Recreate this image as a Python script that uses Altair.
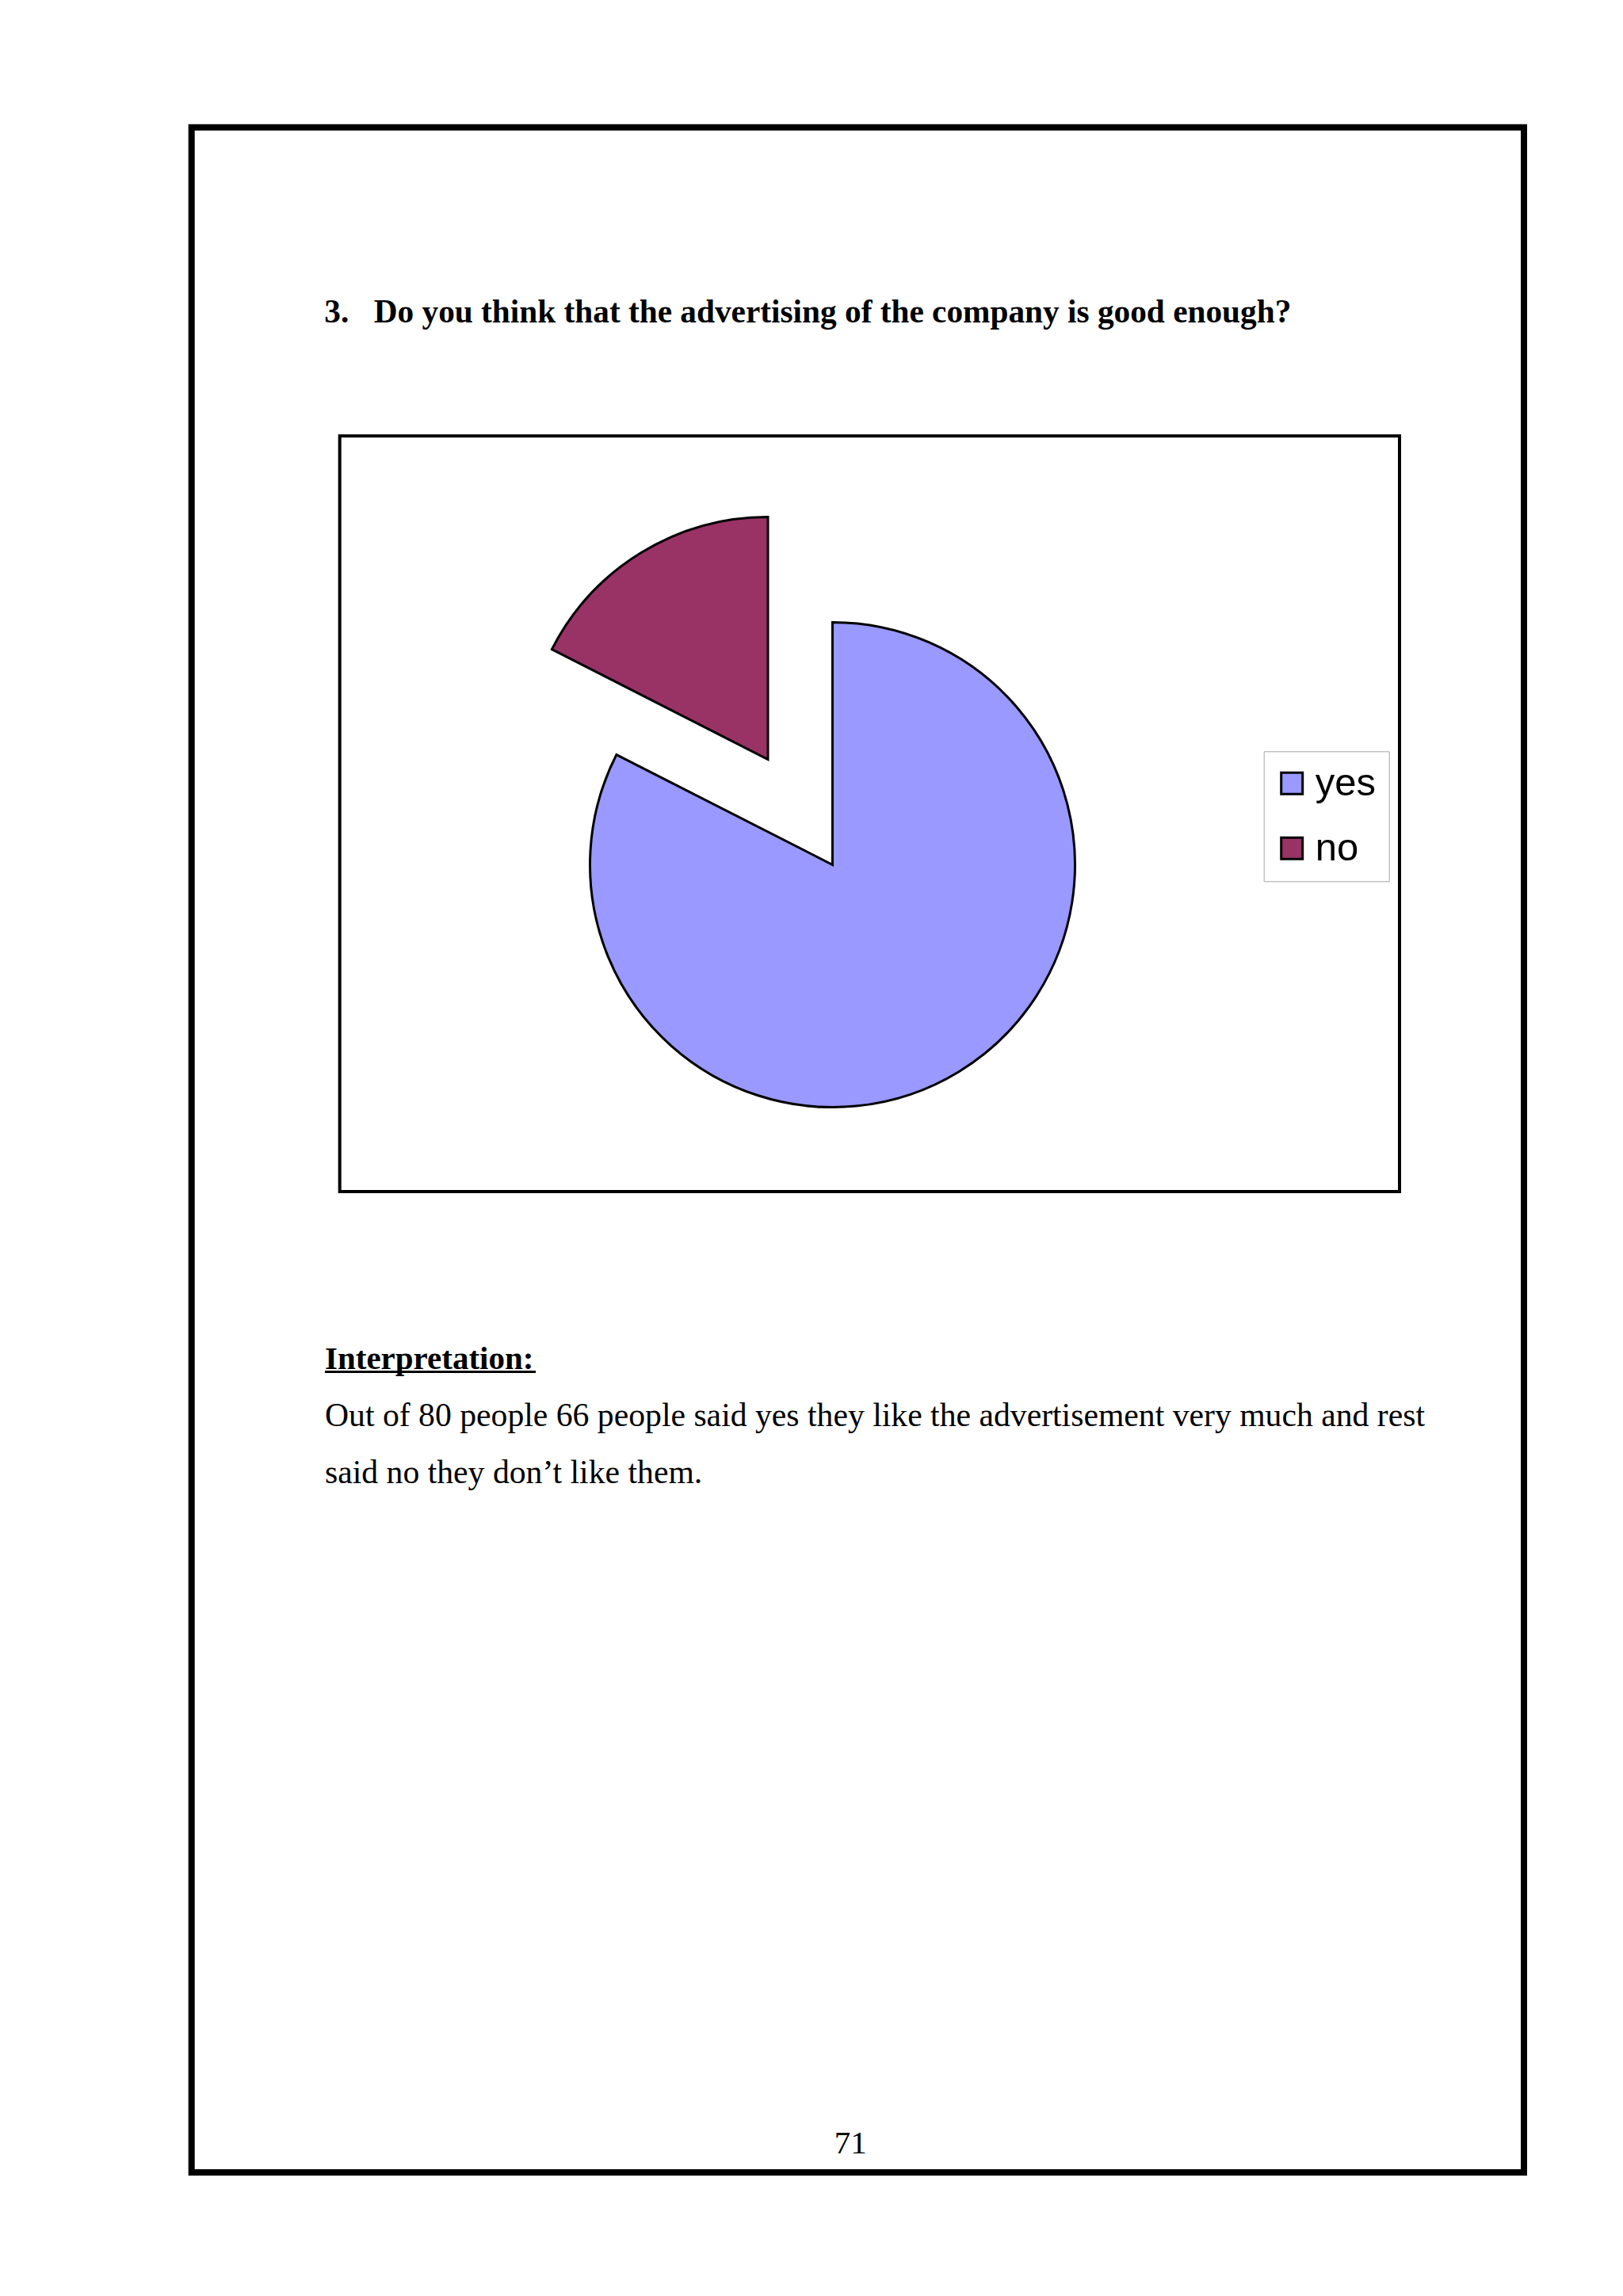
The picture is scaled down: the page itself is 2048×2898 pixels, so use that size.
import math
import altair as alt
import pandas as pd

# ---- data ----
categories = ["yes", "no"]
counts = [66, 14]
slice_colors = ["#9999FF", "#993366"]

question_no = "3."
question = "Do you think that the advertising of the company is good enough?"
interp_head = "Interpretation:"
interp_lines = [
    "Out of 80 people 66 people said yes they like the advertisement very much and rest",
    "said no they don\u2019t like them.",
]
page_number = "71"

# ---- layout (page pixels minus the 8px body margin) ----
OFF = 8
W, H = 2048 - 2 * OFF, 2898 - 2 * OFF
CX, CY = 1050.5 - OFF, 1091.5 - OFF
R = 306
EXPLODE = 156
SERIF = "Liberation Serif"
SANS = "Liberation Sans"

pie_df = pd.DataFrame({"cat": categories, "value": counts, "order": list(range(len(categories)))})

pie = (
    alt.Chart(pie_df)
    .transform_joinaggregate(total="sum(value)")
    .transform_window(cum="sum(value)", sort=[alt.SortField("order")], frame=[None, 0])
    .transform_calculate(t0="datum.cum - datum.value", t1="datum.cum")
    .transform_calculate(mid="(datum.t0 + datum.t1) / 2 / datum.total * 2 * PI")
    .transform_calculate(ex=f"datum.cat == 'no' ? {EXPLODE} : 0")
    .transform_calculate(
        px=f"{CX} + datum.ex * sin(datum.mid)",
        py=f"{CY} - datum.ex * cos(datum.mid)",
    )
    .mark_arc(radius=R, stroke="black", strokeWidth=3)
    .encode(
        theta=alt.Theta("t0:Q", scale=alt.Scale(domain=[0, sum(counts)], range=[0, 2 * math.pi])),
        theta2=alt.Theta2("t1:Q"),
        x=alt.X("px:Q", scale=None, axis=None),
        y=alt.Y("py:Q", scale=None, axis=None),
        color=alt.Color(
            "cat:N",
            scale=alt.Scale(domain=categories, range=slice_colors),
            sort=categories,
            legend=alt.Legend(
                orient="none",
                legendX=1594.7 - OFF,
                legendY=948.3 - OFF,
                title=None,
                symbolType="square",
                symbolSize=729,
                symbolStrokeColor="black",
                symbolStrokeWidth=3,
                symbolOffset=-5,
                labelFont=SANS,
                labelFontSize=49,
                labelColor="black",
                strokeColor="#a6a6a6",
                fillColor="white",
                padding=16,
                rowPadding=32,
                labelOffset=5,
            ),
        ),
    )
)

dummy = pd.DataFrame({"k": [0]})
base = alt.Chart(dummy)

outer = base.mark_rect(fill="white", stroke="black", strokeWidth=8).encode(
    x=alt.value(241.7 - OFF), x2=alt.value(1923 - OFF),
    y=alt.value(160.7 - OFF), y2=alt.value(2742 - OFF),
)
box = base.mark_rect(fill="white", stroke="black", strokeWidth=4).encode(
    x=alt.value(428.7 - OFF), x2=alt.value(1766 - OFF),
    y=alt.value(550.3 - OFF), y2=alt.value(1504 - OFF),
)


def txt(s, x, y, size=41, weight="normal", align="left"):
    return base.mark_text(
        text=s, font=SERIF, fontSize=size, fontWeight=weight, color="black",
        align=align, baseline="alphabetic",
    ).encode(x=alt.value(x - OFF), y=alt.value(y - OFF))


t_no = txt(question_no, 409.3, 406.7, 41.3, "bold")
t_q = txt(question, 471.7, 406.7, 41.3, "bold")
t_head = txt(interp_head, 410, 1728.3, 41, "bold")
underline = base.mark_rule(color="black", strokeWidth=3).encode(
    x=alt.value(410 - OFF), x2=alt.value(676 - OFF), y=alt.value(1731.5 - OFF)
)
t_l1 = txt(interp_lines[0], 410, 1800, 41.7)
t_l2 = txt(interp_lines[1], 410, 1871.7, 41.7)
t_pg = txt(page_number, 1073.3, 2717.7, 41, align="center")

chart = (
    alt.layer(outer, box, pie, t_no, t_q, t_head, underline, t_l1, t_l2, t_pg)
    .properties(width=W, height=H, autosize="none", padding=0, background="white")
    .configure_view(stroke=None)
)

chart.save("out.html", embed_options={"renderer": "svg", "actions": False})
